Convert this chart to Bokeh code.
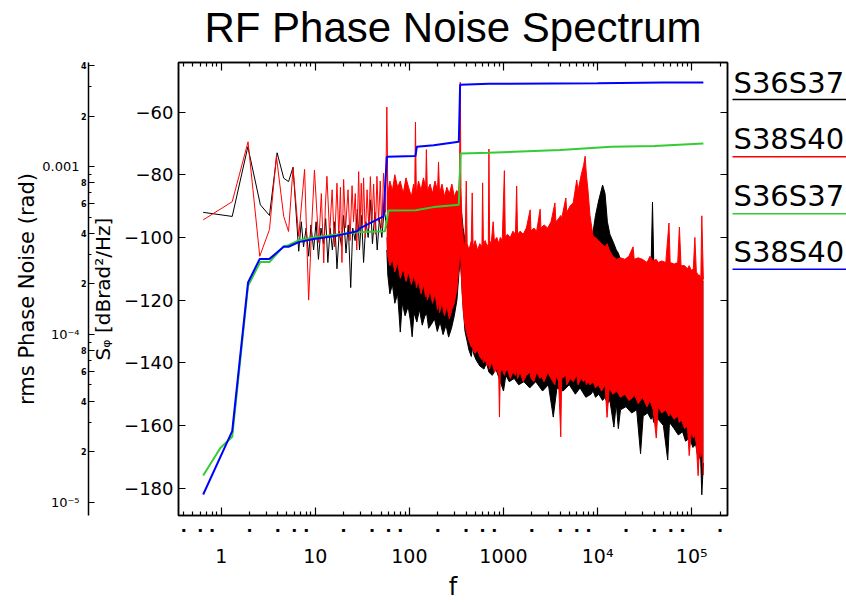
import numpy as np
from bokeh.plotting import figure
from bokeh.layouts import row
from bokeh.models import Range1d, LinearAxis, LogAxis, LogScale, FixedTicker
from bokeh.core.properties import value
from bokeh.embed import file_html
from bokeh.resources import INLINE

# ---------------- data ----------------
# low-frequency part of the spectra, S_phi in dBrad^2/Hz
black_low_f = [0.644, 1.31, 1.92, 2.61, 3.26, 3.93, 4.62, 5.2, 5.8, 6.67, 7.1, 7.5, 8.0, 8.5, 9.0, 9.6,
               10.2, 10.8, 11.5, 12.2, 12.9, 13.6, 14.4, 15.2, 16.1, 17.0, 18.0, 19.0, 20.0, 21.2, 22.4,
               23.8, 25.0, 26.5, 28.0, 29.5, 31.0, 32.6, 34.5, 36.5, 38.5, 40.5, 43.0, 45.5, 48.0, 51.0,
               54.0, 57.6]
black_low_db = [-92.0, -93.3, -71.1, -89.6, -93.0, -73.0, -81.1, -82.2, -77.6, -104.4, -95, -103, -97, -106,
                -96, -104, -95, -107, -97, -102, -94, -108, -97, -104, -95, -110, -98, -103, -93, -105, -96,
                -116, -97, -101, -91, -104, -93, -108, -95, -100, -88, -102, -92, -104, -94, -100, -91, -97]

red_low_f = [0.644, 1.31, 1.93, 2.57, 3.26, 3.86, 4.62, 5.2, 5.8, 6.67, 7.7, 8.5, 9.2, 9.8, 10.4, 10.9,
             11.6, 12.3, 12.8, 13.3, 14.2, 15.1, 16.0, 17.0, 17.8, 18.5, 19.2, 20.0, 21.0, 22.3, 23.4, 24.6,
             25.5, 26.6, 27.6, 28.9, 29.8, 30.8, 31.7, 32.6, 34.0, 35.5, 37.0, 38.5, 40.0, 41.7, 43.5,
             45.2, 47.0, 49.0, 51.0, 53.1, 55.7, 57.6]
red_low_db = [-94.4, -88.6, -69.5, -106.0, -97.5, -74.1, -93.3, -98.1, -78.0, -99.7, -78.3, -120.0, -95,
              -78.5, -92, -101.7, -86, -108.1, -90, -80.5, -99, -84.8, -103, -82.7, -100, -84, -108, -81.5,
              -97, -84.8, -101, -83.5, -95, -86, -104, -79.0, -98, -82.7, -96, -81, -100, -84.8, -97, -80.6,
              -95, -83, -99, -80.5, -95, -82, -97, -79.5, -92, -58.4]

# dense part of the spectra: upper / lower envelopes of the noise band (dB)
red_band_f = [57.6, 59.0, 62, 66, 70, 75, 80, 86, 92, 98, 105, 111, 114, 116, 118.5, 125, 133, 141, 149,
              151.5, 155, 166, 176, 187, 199, 204, 209, 222, 236, 250, 266, 283, 300, 318, 333, 341, 347,
              353, 362, 375, 390, 402, 411, 430, 455, 465, 475, 500, 530, 560, 590, 600, 612, 640, 670,
              690, 700, 712, 740, 776, 800, 850, 890, 906, 925, 970, 1022, 1045, 1100, 1180, 1260, 1340,
              1380, 1410, 1500, 1620, 1750, 1920, 1960, 2100, 2250, 2450, 2500, 2700, 2950, 3200, 3520,
              3600, 3850, 4060, 4150, 4600, 4700, 5100, 5500, 6000, 6200, 6700, 7100, 7370, 7600, 7900,
              8300, 8960, 9500, 10200, 11000, 12000, 12600, 13300, 14500, 16000, 17500, 19500, 21500,
              23800, 24500, 27000, 30000, 33500, 36000, 39000, 42000, 44000, 48000, 53000, 57300, 59000,
              65000, 71000, 74000, 77000, 84000, 90000, 94000, 99000, 104000, 108000, 112000, 117000,
              121000, 125000, 128000, 133000]
red_band_hi = [-58.4, -86, -82, -85, -80, -84, -82, -86, -81, -84, -87, -83, -85, -63.2, -86, -82, -85, -81,
               -84, -72, -85, -83, -86, -82, -85, -76, -86, -83, -87, -84, -86, -83, -87, -85, -86, -80,
               -50.5, -84, -95, -101, -103, -82, -102, -104, -101, -85.8, -103, -101, -104, -102, -103,
               -82.6, -102, -101, -103, -102, -71.8, -101, -102, -95, -101, -100, -102, -101, -100, -101,
               -78.7, -100, -99, -100, -98, -99, -83.6, -99, -98, -99, -97, -91.2, -98, -97, -98, -91,
               -97, -96, -97, -95, -89, -95, -94, -93, -94, -87.4, -92, -90, -89, -81.7, -85, -80, -77,
               -74.1, -80, -84.9, -93, -99.7, -100, -101, -102, -103, -102, -104, -106, -107, -106.5,
               -107, -106, -103, -107, -106.5, -107, -108, -106, -107.5, -107, -108, -107.5, -108, -95.4,
               -108, -108.5, -108, -96.7, -109, -109, -110, -109, -110.5, -110, -100, -111, -112, -112,
               -113, -93.1, -113.4]
red_band_lo = [-100, -106, -109, -107, -111, -108, -113, -110, -114, -111, -115, -112, -114, -113, -116,
               -114, -118, -115, -119, -117, -120, -117, -121, -118, -123, -120, -124, -121, -125, -122,
               -126, -123, -121, -117, -111, -106, -104, -108, -117, -124, -128, -130, -131, -133, -135,
               -134, -136, -137, -136, -138, -139, -138, -140, -139, -141, -140, -141, -142, -140, -141,
               -143, -142, -144, -157.3, -143, -142, -144, -143, -142, -145, -143, -144, -142, -145, -143,
               -146, -144, -143, -145, -146, -143, -145, -144, -146, -143, -145, -147, -144, -146, -163.6,
               -145, -144, -147, -145, -146, -144, -147, -145, -146, -145, -147, -146, -147, -146, -148,
               -147, -149, -147, -157.4, -148, -150, -149, -151, -150, -152, -151, -150, -153, -151, -154,
               -152, -155, -164, -154, -156, -155, -157, -156, -158, -157, -159, -158, -161, -160, -169.6,
               -162, -164, -163, -166, -176, -167, -170, -168, -175.8]

black_band_f = [57.6, 59, 62, 66, 70, 75, 80, 84, 90, 97, 103, 107, 112, 120, 128, 137, 146, 153, 160, 172,
                185, 198, 212, 228, 245, 261, 280, 300, 320, 335, 347, 358, 372, 390, 410, 430, 455, 470,
                480, 510, 560, 620, 660, 700, 760, 830, 900, 1000, 1060, 1150, 1300, 1450, 1650, 1900,
                2200, 2600, 3000, 3380, 3700, 4300, 5000, 5800, 6500, 7500, 8500, 8960, 9500, 10300,
                11300, 12000, 12700, 13500, 14900, 15800, 16600, 17500, 20000, 23000, 26000, 28600, 30500,
                34000, 37000, 38300, 39500, 44000, 50000, 55600, 58000, 65000, 72000, 80000, 86000, 95000,
                103000, 110000, 118000, 124000, 128000, 133000]
black_band_hi = [-97, -92, -94, -91, -95, -92, -96, -93, -97, -94, -96, -95, -93, -97, -94, -96, -93, -95,
                 -97, -94, -96, -93, -95, -92, -94, -92, -93, -91, -92, -90, -89.6, -92, -97, -101, -103,
                 -104, -103, -104, -103, -105, -104, -106, -105, -106, -104, -105, -106, -104, -106, -105,
                 -106, -104, -106, -105, -104, -103, -104, -103, -102, -101, -100, -101, -99, -101, -99,
                 -98, -93, -88, -83.3, -86, -95, -99, -102, -104, -105, -107, -108, -107, -108, -108, -109,
                 -108, -109, -88.7, -108, -109, -109, -109, -110, -110, -110, -111, -111, -112, -112, -112,
                 -113, -113, -114, -114]
black_band_lo = [-104, -112, -118, -115, -121, -118, -130.2, -121, -125, -122, -127, -131.7, -124, -127,
                 -123, -128, -125, -124.5, -129, -127.6, -126, -130, -127, -131, -128, -131.8, -129, -125,
                 -120, -112, -107, -113, -122, -130, -133, -136, -138, -134.8, -137, -139, -141, -142, -140,
                 -143, -144, -142, -145, -149, -144, -146, -145, -147, -146, -148, -146, -149, -147, -157.3,
                 -148, -149, -147, -150, -148, -151, -150, -149, -151, -150, -152, -151, -153, -152, -160.5,
                 -153, -161, -155, -154, -156, -155, -169, -157, -156, -158, -157, -159, -158, -160, -171,
                 -159, -161, -163, -162, -165, -164, -167, -166, -171, -169, -182.1, -172]

# integrated rms phase noise (rad)
green_f = [0.644, 0.98, 1.31, 1.93, 2.6, 3.26, 4.62, 5.2, 6.67, 9.6, 17.0, 27.8, 55.0, 60.0, 116, 181,
           335, 350, 700, 4000, 14000, 40000, 133000]
green_rms = [1.44e-5, 2.1e-5, 2.45e-5, 1.95e-4, 2.7e-4, 2.7e-4, 3.36e-4, 3.4e-4, 3.64e-4, 3.78e-4, 3.94e-4,
             4.06e-4, 4.12e-4, 5.48e-4, 5.5e-4, 5.74e-4, 5.93e-4, 1.2e-3, 1.21e-3, 1.256e-3, 1.314e-3,
             1.33e-3, 1.377e-3]
blue_f = [0.644, 1.31, 1.93, 2.57, 3.26, 4.62, 5.2, 6.67, 9.6, 17.0, 27.8, 30.0, 53.0, 57.6, 116, 120, 181,
          335, 346, 700, 10000, 50000, 133000]
blue_rms = [1.11e-5, 2.65e-5, 2.04e-4, 2.82e-4, 2.82e-4, 3.33e-4, 3.33e-4, 3.55e-4, 3.71e-4, 3.88e-4,
            4.12e-4, 4.3e-4, 5.06e-4, 1.146e-3, 1.157e-3, 1.315e-3, 1.34e-3, 1.41e-3, 3.08e-3, 3.12e-3,
            3.14e-3, 3.18e-3, 3.18e-3]

legend_labels = ["S36S37", "S38S40", "S36S37", "S38S40"]
legend_colors = ["black", "red", "#33cc33", "blue"]

title_text = "RF Phase Noise Spectrum"
db_ticks = [-180, -160, -140, -120, -100, -80, -60]
decades = [1, 10, 100, 1000, 1e4, 1e5]
decade_labels = ["1", "10", "100", "1000", "10\u2074", "10\u2075"]
rms_major = [1e-5, 1e-4, 1e-3]
rms_major_labels = ["10\u207b\u2075", "10\u207b\u2074", "0.001"]

# ---------------- main figure ----------------
AX_FONT = "DejaVu Sans"
GREEN = "#33cc33"

p = figure(width=731, height=603, x_axis_type="log",
           x_range=Range1d(0.352, 2.4e5), y_range=Range1d(-188.7, -44.2),
           x_axis_location=None, y_axis_location=None,
           output_backend="svg", toolbar_location=None,
           min_border_left=178, min_border_right=4, min_border_top=62, min_border_bottom=86)
p.grid.visible = False
p.outline_line_color = "black"
p.outline_line_width = 1.5
p.background_fill_color = "white"
p.border_fill_color = "white"

p.extra_y_ranges = {"rms": Range1d(8.32e-6, 4.18e-3)}
p.extra_y_scales = {"rms": LogScale()}

minor_x = [k * 10.0 ** d for d in range(-1, 6) for k in range(2, 10) if 0.352 < k * 10.0 ** d < 2.4e5]
dot_x = [k * 10.0 ** d for d in range(-1, 6) for k in (2, 4, 6, 8) if 0.352 < k * 10.0 ** d < 2.4e5]


def style_axis(ax, font_size="1px"):
    ax.axis_line_color = "black"
    ax.axis_line_width = 1.5
    ax.major_tick_line_color = "black"
    ax.minor_tick_line_color = "black"
    ax.major_tick_line_width = 1.2
    ax.minor_tick_line_width = 1.2
    ax.major_tick_out = 0
    ax.minor_tick_out = 0
    ax.major_label_text_font = AX_FONT
    ax.major_label_text_font_size = font_size
    ax.major_label_text_color = "black"
    ax.axis_label_text_font = AX_FONT
    ax.axis_label_text_font_style = "normal"
    ax.axis_label_text_color = "black"


# main dB axis (left, next to the frame)
yax = LinearAxis(ticker=FixedTicker(ticks=db_ticks, minor_ticks=[]),
                 major_label_overrides={t: "\u2212%d" % (-t) for t in db_ticks},
                 axis_label="S\u1d69 [dBrad\u00b2/Hz]")
style_axis(yax, "18px")
yax.major_tick_in = 7
yax.major_label_standoff = 5
yax.axis_label_standoff = 6
yax.axis_label_text_font_size = "20px"
p.add_layout(yax, "left")

# rms axis: line, ticks and small digit labels
rms_ticks = [k * 10.0 ** d for d in (-5, -4, -3) for k in (1, 2, 4, 6, 8) if k * 10.0 ** d < 4.18e-3]
rms_minor = [k * 10.0 ** d for d in (-5, -4, -3) for k in (3, 5, 7, 9) if k * 10.0 ** d < 4.18e-3]
rax = LogAxis(y_range_name="rms", ticker=FixedTicker(ticks=rms_ticks, minor_ticks=rms_minor),
              major_label_overrides={t: ("" if t in rms_major else
                                         "%d" % round(t / 10.0 ** np.floor(np.log10(t) + 1e-9)))
                                     for t in rms_ticks})
style_axis(rax, "8px")
rax.major_label_text_font_style = "bold"
rax.major_tick_in = 6
rax.minor_tick_in = 3
rax.major_label_standoff = 2
p.add_layout(rax, "left")

# rms axis: decade labels and title
rax2 = LogAxis(y_range_name="rms", ticker=FixedTicker(ticks=rms_major, minor_ticks=[]),
               major_label_overrides=dict(zip(rms_major, rms_major_labels)),
               axis_label="rms Phase Noise (rad)")
style_axis(rax2, "13px")
rax2.axis_line_color = None
rax2.major_tick_in = 0
rax2.major_label_standoff = -2
rax2.axis_label_standoff = 0
rax2.axis_label_text_font_size = "21px"
p.add_layout(rax2, "left")

# right frame axis
rt = LinearAxis(ticker=FixedTicker(ticks=db_ticks, minor_ticks=[]),
                major_label_overrides={t: "" for t in db_ticks})
style_axis(rt)
rt.major_tick_in = 7
rt.major_label_standoff = 0
p.add_layout(rt, "right")

# top frame axis, carrying the chart title as its label
tp = LogAxis(ticker=FixedTicker(ticks=decades, minor_ticks=minor_x),
             major_label_overrides={t: "" for t in decades},
             axis_label=title_text)
style_axis(tp)
tp.major_tick_in = 8
tp.minor_tick_in = 4
tp.major_label_standoff = 0
tp.axis_label_standoff = 12
tp.axis_label_text_font = "Liberation Sans"
tp.axis_label_text_font_size = "42px"
p.add_layout(tp, "above")

# bottom: frame ticks, dot row, numbers
b1 = LogAxis(ticker=FixedTicker(ticks=decades, minor_ticks=minor_x),
             major_label_overrides={t: "" for t in decades})
style_axis(b1)
b1.major_tick_in = 8
b1.minor_tick_in = 4
b1.major_label_standoff = 0
p.add_layout(b1, "below")

b2 = LogAxis(ticker=FixedTicker(ticks=dot_x, minor_ticks=[]),
             major_label_overrides={t: "\u25aa" for t in dot_x})
style_axis(b2, "6px")
b2.axis_line_color = None
b2.major_tick_in = 0
b2.major_label_standoff = 10
p.add_layout(b2, "below")

b3 = LogAxis(ticker=FixedTicker(ticks=decades, minor_ticks=[]),
             major_label_overrides=dict(zip(decades, decade_labels)),
             axis_label="f")
style_axis(b3, "19px")
b3.axis_line_color = None
b3.major_tick_in = 0
b3.major_label_standoff = 9
b3.axis_label_standoff = 3
b3.axis_label_text_font_size = "24px"
p.add_layout(b3, "below")

# ---------------- data glyphs ----------------
p.line(black_low_f, black_low_db, color="black", line_width=1)
p.varea(x=black_band_f, y1=black_band_lo, y2=black_band_hi, fill_color="black")
p.line(black_band_f, black_band_hi, color="black", line_width=1)
p.line(black_band_f, black_band_lo, color="black", line_width=1)

p.line(red_low_f, red_low_db, color="red", line_width=1)
p.varea(x=red_band_f, y1=red_band_lo, y2=red_band_hi, fill_color="red")
p.line(red_band_f, red_band_hi, color="red", line_width=1)
p.line(red_band_f, red_band_lo, color="red", line_width=1)

p.line(green_f, green_rms, color=GREEN, line_width=2, y_range_name="rms")
p.line(blue_f, blue_rms, color="blue", line_width=2, y_range_name="rms")

# ---------------- legend (separate panel to the right) ----------------
# its frame is aligned with the main frame (canvas rows 62 .. 517.5), so the y range is given in canvas rows
leg = figure(width=115, height=603, x_range=Range1d(0, 115), y_range=Range1d(517.5, 62),
             x_axis_location=None, y_axis_location=None, output_backend="svg",
             toolbar_location=None, min_border=0)
leg.grid.visible = False
leg.outline_line_color = None
leg.background_fill_color = "white"
leg.border_fill_color = "white"

leg_text_y = [83, 139, 196, 253]   # canvas rows of the legend entries
leg_line_y = [99.3, 156.7, 214, 270]
leg.text(x=[2] * 4, y=leg_text_y, text=legend_labels, text_align="left", text_baseline="alphabetic",
         text_font=value(AX_FONT), text_font_size=value("29px"), text_color="black")
leg.segment(x0=[1] * 4, y0=leg_line_y, x1=[115] * 4, y1=leg_line_y, line_color=legend_colors,
            line_width=1.5)

layout = row(p, leg)
layout.spacing = 0
open("out.html", "w").write(file_html(layout, INLINE))
